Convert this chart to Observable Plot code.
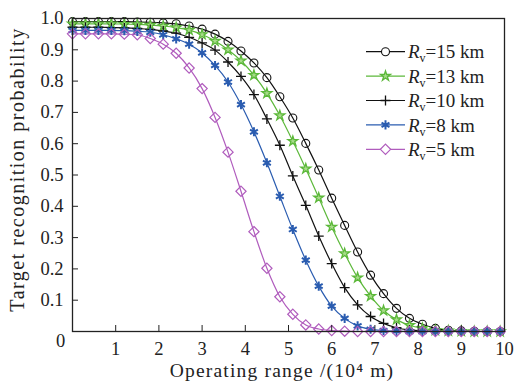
<!DOCTYPE html>
<html><head><meta charset="utf-8">
<script src="https://cdn.jsdelivr.net/npm/d3@7"></script>
<script src="https://cdn.jsdelivr.net/npm/@observablehq/plot@0.6"></script>
<style>body{margin:0;background:#fff} svg{display:block;background:#fff}</style>
</head><body><div id="chart"></div>
<script>
const xVals = [0,0.3,0.6,0.9,1.2,1.5,1.8,2.1,2.4,2.7,3.0,3.3,3.6,3.9,4.2,4.5,4.8,5.1,5.4,5.7,6.0,6.3,6.6,6.9,7.2,7.5,7.8,8.1,8.4,8.7,9.0,9.3,9.6,9.9];
const p15 = [0.990,0.990,0.990,0.990,0.990,0.989,0.988,0.986,0.983,0.976,0.966,0.950,0.927,0.896,0.858,0.811,0.750,0.682,0.601,0.516,0.426,0.339,0.254,0.180,0.121,0.074,0.042,0.023,0.010,0.004,0.002,0.001,0,0];
const p13 = [0.983,0.983,0.983,0.983,0.982,0.981,0.979,0.976,0.971,0.963,0.949,0.928,0.900,0.865,0.819,0.761,0.690,0.608,0.520,0.427,0.334,0.249,0.172,0.113,0.067,0.038,0.020,0.010,0.004,0.002,0.001,0,0,0];
const p10 = [0.972,0.972,0.972,0.971,0.970,0.968,0.965,0.960,0.953,0.940,0.922,0.899,0.861,0.815,0.757,0.679,0.595,0.497,0.403,0.305,0.217,0.140,0.085,0.048,0.026,0.012,0.005,0.002,0.001,0,0,0,0,0];
const p8  = [0.962,0.962,0.962,0.962,0.961,0.959,0.956,0.948,0.935,0.918,0.890,0.850,0.797,0.725,0.638,0.539,0.432,0.326,0.228,0.145,0.081,0.042,0.018,0.007,0.003,0.001,0,0,0,0,0,0,0,0];
const p5  = [0.951,0.951,0.951,0.951,0.950,0.948,0.936,0.918,0.889,0.842,0.776,0.684,0.573,0.448,0.319,0.202,0.111,0.055,0.021,0.008,0.003,0.001,0,0,0,0,0,0,0,0,0,0,0,0];

const seriesKm = ["15","13","10","8","5"];
const seriesValues = [p15, p13, p10, p8, p5];
const seriesColors = ["#111111","#5cb83a","#111111","#2a5cb0","#b05cbd"];
const seriesFills = ["none","#a8dc8a","none","#2a5cb0","none"];
const seriesSymbols = ["circle","star","plus","asterisk","diamond2"];
const seriesR = [4, 3.1, 3.3, 4.3, 4.6];
const seriesSW = [1.1, 1.3, 1.3, 2, 1.2];

const xTicks = [1,2,3,4,5,6,7,8,9,10];
const yTicks = [0.1,0.2,0.3,0.4,0.5,0.6,0.7,0.8,0.9,1.0];
const originLabel = ["0"];
const xLabel = "Operating range /(10\u2074 m)";
const yLabel = "Target recognition probability";

const rows = [];
seriesKm.forEach((s, i) => xVals.forEach((x, j) => rows.push({s, x, p: seriesValues[i][j]})));

const font = "'Liberation Serif', 'DejaVu Serif', serif";
const marks = [];
seriesKm.forEach((s, i) => {
  const d = rows.filter(r => r.s === s);
  marks.push(Plot.line(d, {x: "x", y: "p", stroke: seriesColors[i], strokeWidth: 1.2, curve: "monotone-x"}));
});
seriesKm.forEach((s, i) => {
  const d = rows.filter(r => r.s === s);
  marks.push(Plot.dot(d, {x: "x", y: "p", symbol: () => seriesSymbols[i], stroke: seriesColors[i], fill: seriesFills[i], r: seriesR[i], strokeWidth: seriesSW[i]}));
});

const chart = Plot.plot({
  width: 515, height: 382,
  marginLeft: 72, marginRight: 11, marginTop: 18, marginBottom: 51,
  style: {fontFamily: font, fontSize: "18.5px", color: "#222", background: "#fff", overflow: "visible"},
  x: {domain: [0, 10]},
  y: {domain: [0, 1]},
  symbol: {type: "identity"},
  marks: [
    ...marks,
    Plot.frame({stroke: "#222", strokeWidth: 1.3}),
    Plot.axisX({ticks: xTicks, tickSize: -6, tickPadding: 16, tickFormat: d => String(d), label: null, fontSize: 18.5}),
    Plot.axisY({ticks: yTicks, tickSize: -6, tickPadding: 15, tickFormat: d => d.toFixed(1), label: null, fontSize: 18.5}),
    Plot.text(originLabel, {x: 0, y: 0, text: d => d, dx: -12, dy: 10, textAnchor: "middle", fontSize: 18.5}),
    Plot.text([xLabel], {frameAnchor: "bottom", dy: 39, dx: -6.5, text: d => d, fontSize: 19.5, textAnchor: "middle", lineAnchor: "middle"}),
    Plot.text([yLabel], {frameAnchor: "left", dx: -54.5, dy: -5.5, rotate: -90, text: d => d, fontSize: 20, textAnchor: "middle", lineAnchor: "middle"})
  ]
});
document.getElementById("chart").appendChild(chart);

const svg = d3.select(chart);
// stretch axis titles to the reference widths (wider Computer-Modern-like face)
svg.selectAll("text").filter(function() { return this.textContent === xLabel; }).attr("letter-spacing", "1.2px");
svg.selectAll("text").filter(function() { return this.textContent === yLabel; }).attr("letter-spacing", "1.5px");

// legend
const legendY0 = 51.7, legendStep = 24.4, lx1 = 366, lx2 = 405, tx = 408;
const symMap = {circle: d3.symbolCircle, star: d3.symbolStar, plus: d3.symbolPlus, asterisk: d3.symbolAsterisk, diamond2: d3.symbolDiamond2};
const lg = svg.append("g").attr("font-family", font).attr("font-size", 19).attr("fill", "#222").attr("text-anchor", "start");
seriesKm.forEach((s, i) => {
  const y = legendY0 + i * legendStep;
  lg.append("line").attr("x1", lx1).attr("x2", lx2).attr("y1", y).attr("y2", y)
    .attr("stroke", seriesColors[i]).attr("stroke-width", 1.2);
  lg.append("path").attr("transform", `translate(${(lx1 + lx2) / 2},${y})`)
    .attr("d", d3.symbol(symMap[seriesSymbols[i]], Math.PI * seriesR[i] * seriesR[i])())
    .attr("fill", seriesFills[i] === "none" ? "white" : seriesFills[i]).attr("stroke", seriesColors[i]).attr("stroke-width", seriesSW[i]);
  const t = lg.append("text").attr("x", tx).attr("y", y).attr("dy", "0.35em");
  t.append("tspan").attr("font-style", "italic").text("R");
  t.append("tspan").attr("font-size", 12).attr("dy", 4).text("v");
  t.append("tspan").attr("dy", -4).text(`=${s} km`);
});
</script>
</body></html>
